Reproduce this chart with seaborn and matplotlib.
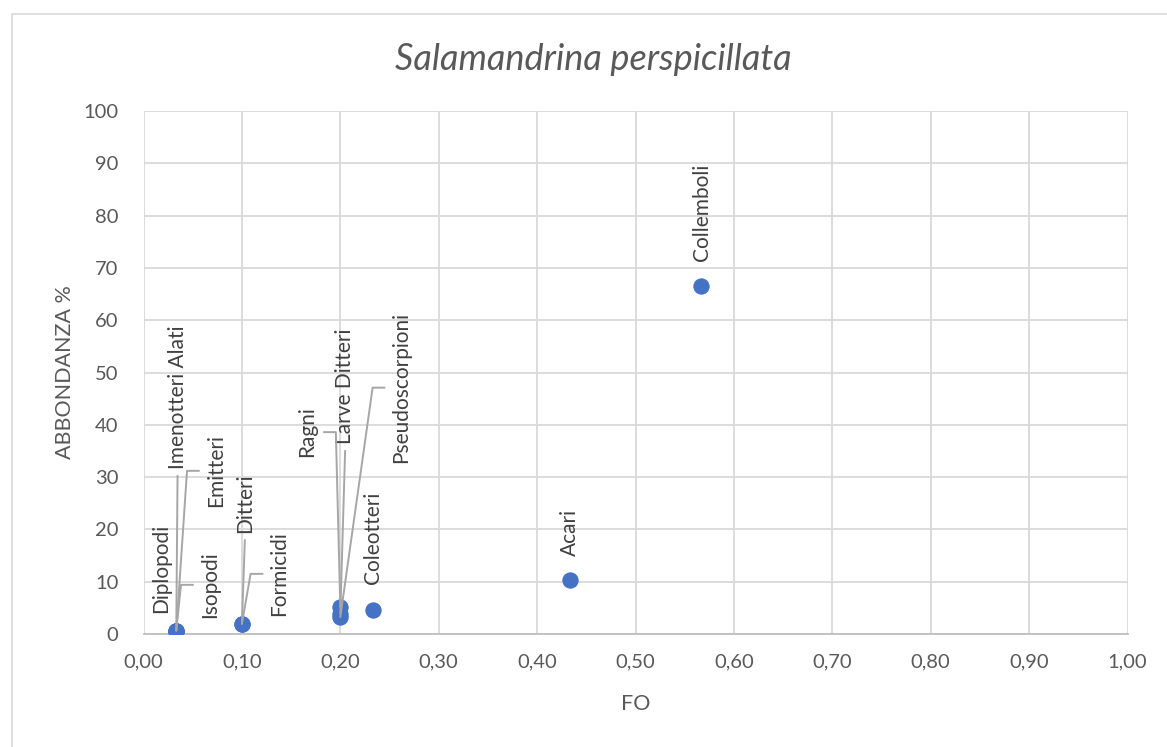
import numpy as np
import pandas as pd
import matplotlib
matplotlib.use("Agg")
import matplotlib.pyplot as plt
import seaborn as sns
from matplotlib.ticker import FuncFormatter, MultipleLocator
from matplotlib.patches import Rectangle
from matplotlib.lines import Line2D

# ---- data ----
categories = ["Diplopodi", "Imenotteri Alati", "Emitteri", "Isopodi",
              "Ditteri", "Formicidi", "Ragni", "Larve Ditteri",
              "Pseudoscorpioni", "Coleotteri", "Acari", "Collemboli"]
fo = [0.0333, 0.0333, 0.0333, 0.0333, 0.1, 0.1, 0.2, 0.2, 0.2,
      0.2333, 0.4333, 0.5667]
abbondanza = [0.65, 0.65, 0.65, 0.65, 1.94, 1.94, 5.16, 3.87, 3.23,
              4.52, 10.32, 66.45]

# ---- label layout (data coords of label centres, leader side) ----
label_pos = [(0.0178, 12.6), (0.0346, 45.3), (0.0737, 31.2), (0.0676, 9.4),
             (0.103, 25.0), (0.1383, 11.5), (0.166, 38.6), (0.2049, 47.4),
             (0.2623, 47.1), (0.2334, 18.4), (0.4337, 19.5), (0.5678, 80.7)]
leader = [None, "bottom", "left", "left", "bottom", "left", "right", "bottom",
          "left", None, None, None]

df = pd.DataFrame({"FO": fo, "ABB": abbondanza, "cat": categories})

sns.set_theme(style="white")
plt.rcParams["font.family"] = ["Lato", "DejaVu Sans"]

fig = plt.figure(figsize=(11.67, 7.47), dpi=100)
ax = fig.add_axes([143.5 / 1167, 1 - 634 / 747, (1127.5 - 143.5) / 1167, (634 - 111) / 747])

# outer chart border
fig.patches.append(Rectangle((11.5 / 1167, -0.05), 1.2, 1 - 14 / 747 + 0.05,
                             transform=fig.transFigure, fill=False,
                             edgecolor="#d9d9d9", linewidth=1.2))

sns.scatterplot(data=df, x="FO", y="ABB", ax=ax, s=120, color="#4472C4",
                edgecolor="#4472C4", linewidth=0.8, zorder=4, legend=False)

ax.set_xlim(0, 1)
ax.set_ylim(0, 100)
ax.xaxis.set_major_locator(MultipleLocator(0.1))
ax.yaxis.set_major_locator(MultipleLocator(10))
ax.xaxis.set_major_formatter(FuncFormatter(lambda v, p: f"{v:.2f}".replace(".", ",")))
ax.yaxis.set_major_formatter(FuncFormatter(lambda v, p: f"{v:.0f}"))
ax.grid(True, color="#d9d9d9", linewidth=1.3)
ax.set_axisbelow(True)
for s in ["top", "right", "left"]:
    ax.spines[s].set_visible(False)
ax.spines["bottom"].set_color("#bfbfbf")
ax.spines["bottom"].set_linewidth(1.3)
ax.tick_params(axis="both", length=0, labelsize=14.5, labelcolor="#595959")
ax.tick_params(axis="x", pad=14)
ax.tick_params(axis="y", pad=18)

ax.set_xlabel("FO", fontsize=15.5, color="#595959", labelpad=17)
ax.set_ylabel("ABBONDANZA %", fontsize=15.5, color="#595959", labelpad=6)
fig.text(593 / 1167, 1 - 60 / 747, "Salamandrina perspicillata",
         fontsize=26, style="italic", color="#595959",
         ha="center", va="center")

texts = []
for (lx, ly), name in zip(label_pos, categories):
    t = ax.text(lx, ly, name, rotation=90, ha="center", va="center",
                fontsize=15, color="#404040", zorder=5)
    texts.append(t)

fig.canvas.draw()
renderer = fig.canvas.get_renderer()
gap = 7
elbow = 12
for t, mode, x, y in zip(texts, leader, fo, abbondanza):
    if mode is None:
        continue
    bb = t.get_window_extent(renderer)
    px, py = ax.transData.transform((x, y))
    cy = 0.5 * (bb.y0 + bb.y1)
    cx = 0.5 * (bb.x0 + bb.x1)
    if mode == "bottom":
        xs, ys = [px, cx], [py, bb.y0 - gap]
    elif mode == "left":
        ex = bb.x0 - gap
        xs, ys = [px, ex - elbow, ex], [py, cy, cy]
    else:
        ex = bb.x1 + gap
        xs, ys = [px, ex + elbow, ex], [py, cy, cy]
    fig.lines.append(Line2D(xs, ys, transform=None, color="#a6a6a6",
                            linewidth=1.4, zorder=6))

fig.savefig("out.png", dpi=100)
